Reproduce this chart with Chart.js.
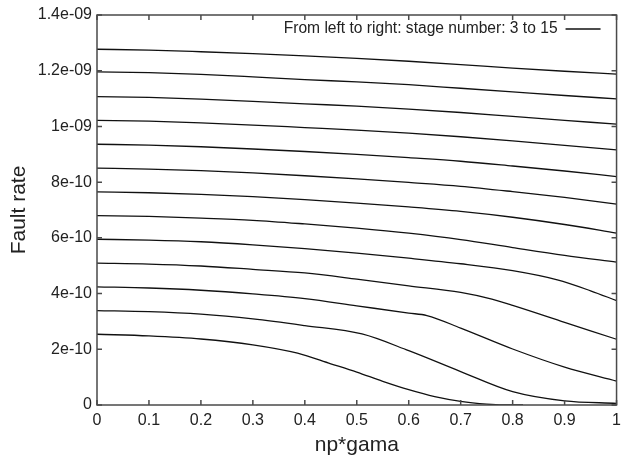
<!DOCTYPE html>
<html>
<head>
<meta charset="utf-8">
<script src="https://cdn.jsdelivr.net/npm/chart.js@4.4.0/dist/chart.umd.min.js"></script>
<style>
html, body { margin: 0; padding: 0; background: #fff; }
#wrap { width: 627px; height: 456px; }
</style>
</head>
<body>
<div id="wrap"><canvas id="fault"></canvas></div>
<script>
// fault rate values are in units of 1e-10
let npGama = [0, 0.1, 0.2, 0.3, 0.4, 0.5, 0.6, 0.7, 0.8, 0.9, 1];

let stage15 = [12.77, 12.74, 12.68, 12.61, 12.53, 12.44, 12.34, 12.22, 12.09, 11.98, 11.88];
let stage14 = [11.96, 11.93, 11.87, 11.78, 11.68, 11.60, 11.50, 11.37, 11.24, 11.11, 10.99];
let stage13 = [11.07, 11.04, 10.98, 10.90, 10.81, 10.73, 10.62, 10.50, 10.36, 10.22, 10.08];
let stage12 = [10.22, 10.19, 10.13, 10.05, 9.96, 9.87, 9.76, 9.63, 9.48, 9.32, 9.16];
let stage11 = [9.36, 9.33, 9.27, 9.19, 9.10, 9.00, 8.88, 8.75, 8.58, 8.40, 8.20];
let stage10 = [8.50, 8.47, 8.41, 8.33, 8.23, 8.12, 7.99, 7.85, 7.66, 7.45, 7.21];
let stage9 = [7.65, 7.62, 7.56, 7.48, 7.37, 7.25, 7.11, 6.95, 6.74, 6.48, 6.17];
let stage8 = [6.80, 6.77, 6.71, 6.63, 6.50, 6.35, 6.17, 5.94, 5.65, 5.37, 5.13];

// the lower stages bend, so they were read at a few more places
let stage7X = [0, 0.1, 0.2, 0.3, 0.4, 0.5, 0.6, 0.7, 0.8, 0.886, 0.95, 1];
let stage7 = [5.95, 5.92, 5.86, 5.75, 5.61, 5.45, 5.27, 5.07, 4.82, 4.49, 4.10, 3.75];
let stage6X = [0, 0.1, 0.2, 0.3, 0.4, 0.5, 0.6, 0.7, 0.76, 0.8, 0.9, 1];
let stage6 = [5.09, 5.06, 4.99, 4.87, 4.74, 4.52, 4.28, 4.04, 3.80, 3.58, 2.97, 2.36];
let stage5X = [0, 0.1, 0.2, 0.3, 0.4, 0.5, 0.6, 0.635, 0.7, 0.8, 0.9, 1];
let stage5 = [4.24, 4.20, 4.12, 3.99, 3.82, 3.56, 3.30, 3.21, 2.76, 2.01, 1.36, 0.86];
let stage4X = [0, 0.1, 0.2, 0.3, 0.4, 0.51, 0.6, 0.7, 0.8, 0.9, 1];
let stage4 = [3.39, 3.35, 3.26, 3.09, 2.85, 2.55, 1.95, 1.20, 0.48, 0.15, 0.06];
let stage3X = [0, 0.1, 0.2, 0.3, 0.386, 0.45, 0.5, 0.55, 0.6, 0.65, 0.7, 0.75, 0.78, 0.82];
let stage3 = [2.54, 2.48, 2.37, 2.16, 1.86, 1.48, 1.18, 0.85, 0.55, 0.30, 0.13, 0.03, 0, 0];

let xTicks = [0, 0.1, 0.2, 0.3, 0.4, 0.5, 0.6, 0.7, 0.8, 0.9, 1];
let xTickLabels = ["0", "0.1", "0.2", "0.3", "0.4", "0.5", "0.6", "0.7", "0.8", "0.9", "1"];
let yTicks = [0, 2, 4, 6, 8, 10, 12, 14];
let yTickLabels = ["0", "2e-10", "4e-10", "6e-10", "8e-10", "1e-09", "1.2e-09", "1.4e-09"];

let legendText = "From left to right: stage number: 3 to 15";

let fontFamily = "'Liberation Sans', Arial, Helvetica, sans-serif";
let ink = "#222";

function pts(xs, ys) {
    return xs.map((x, i) => ({ x: x, y: ys[i] }));
}

let series = [
    pts(stage3X, stage3), pts(stage4X, stage4), pts(stage5X, stage5),
    pts(stage6X, stage6), pts(stage7X, stage7),
    pts(npGama, stage8), pts(npGama, stage9), pts(npGama, stage10),
    pts(npGama, stage11), pts(npGama, stage12), pts(npGama, stage13),
    pts(npGama, stage14), pts(npGama, stage15),
];

let faultData = {
    datasets: series.map((d, i) => ({
        label: "stage " + (i + 3),
        data: d,
        borderColor: "#111",
        borderWidth: 1.3,
        pointRadius: 0,
        fill: false,
        cubicInterpolationMode: "monotone",
    })),
};

// gnuplot style box with inward ticks on all sides, plus the key
let framePlugin = {
    id: "frame",
    afterDraw(chart) {
        let { ctx, chartArea: a, scales } = chart;
        ctx.save();
        ctx.strokeStyle = "#4a4a4a";
        ctx.lineWidth = 1.5;
        ctx.strokeRect(a.left, a.top, a.right - a.left, a.bottom - a.top);
        ctx.beginPath();
        xTicks.forEach(v => {
            let px = scales.x.getPixelForValue(v);
            ctx.moveTo(px, a.bottom); ctx.lineTo(px, a.bottom - 5);
            ctx.moveTo(px, a.top); ctx.lineTo(px, a.top + 5);
        });
        yTicks.forEach(v => {
            let py = scales.y.getPixelForValue(v);
            ctx.moveTo(a.left, py); ctx.lineTo(a.left + 5, py);
            ctx.moveTo(a.right, py); ctx.lineTo(a.right - 5, py);
        });
        ctx.stroke();

        // key
        let ky = a.top + 14;
        ctx.font = "15.6px " + fontFamily;
        ctx.fillStyle = ink;
        ctx.textAlign = "right";
        ctx.textBaseline = "middle";
        ctx.fillText(legendText, a.right - 59, ky);
        ctx.strokeStyle = "#111";
        ctx.lineWidth = 1.3;
        ctx.beginPath();
        ctx.moveTo(a.right - 51, ky);
        ctx.lineTo(a.right - 16, ky);
        ctx.stroke();
        ctx.restore();
    },
};

let faultOptions = {
    responsive: true,
    maintainAspectRatio: false,
    animation: false,
    layout: { padding: { top: 15, right: 3, left: 0, bottom: 0 } },
    plugins: {
        legend: { display: false },
        tooltip: { enabled: false },
    },
    scales: {
        x: {
            type: "linear",
            min: 0,
            max: 1,
            afterBuildTicks: s => { s.ticks = xTicks.map(v => ({ value: v })); },
            afterFit: s => { s.height = 51; },
            grid: { display: false, drawTicks: false },
            border: { display: false },
            ticks: {
                autoSkip: false,
                maxRotation: 0,
                padding: 6,
                color: ink,
                font: { size: 16, family: fontFamily },
                callback: (v, i) => xTickLabels[i],
            },
            title: {
                display: true,
                text: "np*gama",
                color: ink,
                padding: { top: 0, bottom: -2 },
                font: { size: 21, family: fontFamily },
            },
        },
        y: {
            min: 0,
            max: 14,
            afterBuildTicks: s => { s.ticks = yTicks.map(v => ({ value: v })); },
            afterFit: s => { s.width = 97; },
            grid: { display: false, drawTicks: false },
            border: { display: false },
            ticks: {
                autoSkip: false,
                padding: 5,
                color: ink,
                font: { size: 16, family: fontFamily },
                callback: (v, i) => yTickLabels[i],
            },
            title: {
                display: true,
                text: "Fault rate",
                color: ink,
                padding: { top: 7, bottom: 0 },
                font: { size: 21, family: fontFamily },
            },
        },
    },
};

let faultChart = new Chart(
    document.getElementById("fault"), {
        type: "line",
        data: faultData,
        options: faultOptions,
        plugins: [framePlugin],
    }
);
</script>
</body>
</html>
